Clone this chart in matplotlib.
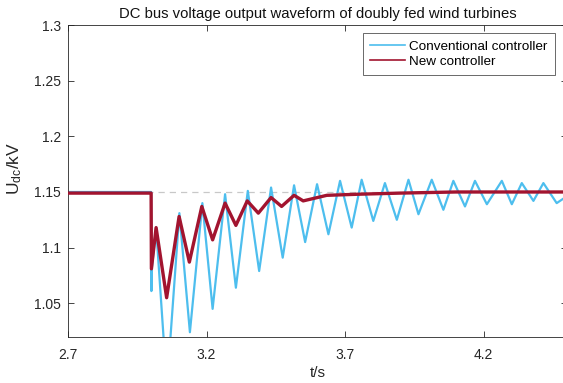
import matplotlib
matplotlib.use("Agg")
import matplotlib.pyplot as plt

plt.rcParams['font.family'] = ['Liberation Sans', 'DejaVu Sans']
plt.rcParams['mathtext.default'] = 'regular'

# Conventional controller: key points (peaks / troughs)
conv_t = [2.700, 3.000, 3.001, 3.003, 3.018, 3.057, 3.102, 3.140, 3.185, 3.222,
          3.267, 3.306, 3.349, 3.390, 3.433, 3.475, 3.516, 3.556, 3.599, 3.640,
          3.682, 3.724, 3.760, 3.802, 3.844, 3.887, 3.929, 3.965, 4.013, 4.055,
          4.091, 4.133, 4.169, 4.212, 4.266, 4.302, 4.338, 4.380, 4.416, 4.464, 4.500]
conv_v = [1.150, 1.150, 1.061, 1.082, 1.118, 0.975, 1.131, 1.024, 1.140, 1.045,
          1.148, 1.064, 1.151, 1.079, 1.154, 1.091, 1.156, 1.105, 1.157, 1.112,
          1.160, 1.118, 1.161, 1.124, 1.158, 1.125, 1.161, 1.130, 1.161, 1.134,
          1.160, 1.137, 1.160, 1.139, 1.160, 1.139, 1.158, 1.142, 1.158, 1.140, 1.146]

# New controller
new_t = [2.700, 3.000, 3.001, 3.018, 3.056, 3.101, 3.138, 3.183, 3.222, 3.267,
         3.306, 3.347, 3.387, 3.433, 3.471, 3.516, 3.549, 3.634, 3.750, 3.900,
         4.100, 4.300, 4.500]
new_v = [1.149, 1.149, 1.081, 1.118, 1.055, 1.128, 1.087, 1.137, 1.107, 1.140,
         1.120, 1.142, 1.131, 1.145, 1.137, 1.147, 1.142, 1.147, 1.148, 1.149,
         1.150, 1.150, 1.150]

ref_level = 1.15
x_ticks = [2.7, 3.2, 3.7, 4.2]
y_ticks = [1.05, 1.1, 1.15, 1.2, 1.25, 1.3]
y_ticklabels = ['1.05', '1.1', '1.15', '1.2', '1.25', '1.3']

fig = plt.figure(figsize=(5.63, 3.83), dpi=100)
ax = fig.add_axes([0.1208, 0.1209, 0.8857, 0.8138])

ax.axhline(ref_level, color='#c8c8c8', lw=0.9, ls=(0, (5, 4)), zorder=1)
ax.plot(conv_t, conv_v, color='#4DBEEE', lw=1.6, solid_joinstyle='round',
        label='Conventional controller', zorder=2)
ax.plot(new_t, new_v, color='#A2142F', lw=2.4, solid_joinstyle='round',
        label='New controller', zorder=3)

ax.set_xlim(2.7, 4.5)
ax.set_ylim(1.02, 1.3)
ax.set_xticks(x_ticks)
ax.set_xticklabels([str(v) for v in x_ticks])
ax.set_yticks(y_ticks)
ax.set_yticklabels(y_ticklabels)

ax.tick_params(direction='in', length=4, width=0.6, colors='#262626',
               labelsize=10, top=True, right=True, pad=5)
ax.tick_params(axis='x', pad=8)
for sp in ax.spines.values():
    sp.set_color('#262626')
    sp.set_linewidth(0.6)

ax.set_title('DC bus voltage output waveform of doubly fed wind turbines',
             fontsize=10.7, color='#111111', pad=5)
ax.set_xlabel('t/s', fontsize=11, color='#262626', labelpad=3)
ax.set_ylabel(r'U$_{dc}$/kV', fontsize=12.5, color='#262626')
ax.yaxis.set_label_coords(-0.088, 0.54)

leg = ax.legend(loc='upper right', bbox_to_anchor=(0.9767, 0.974),
                borderaxespad=0, fontsize=9.7, frameon=True, fancybox=False,
                handlelength=2.6, handletextpad=0.3, borderpad=0.55,
                labelspacing=0.16)
leg.get_frame().set_edgecolor('#262626')
leg.get_frame().set_linewidth(0.6)
for line in leg.get_lines():
    line.set_linewidth(1.2)

fig.savefig('out.png', dpi=100)
